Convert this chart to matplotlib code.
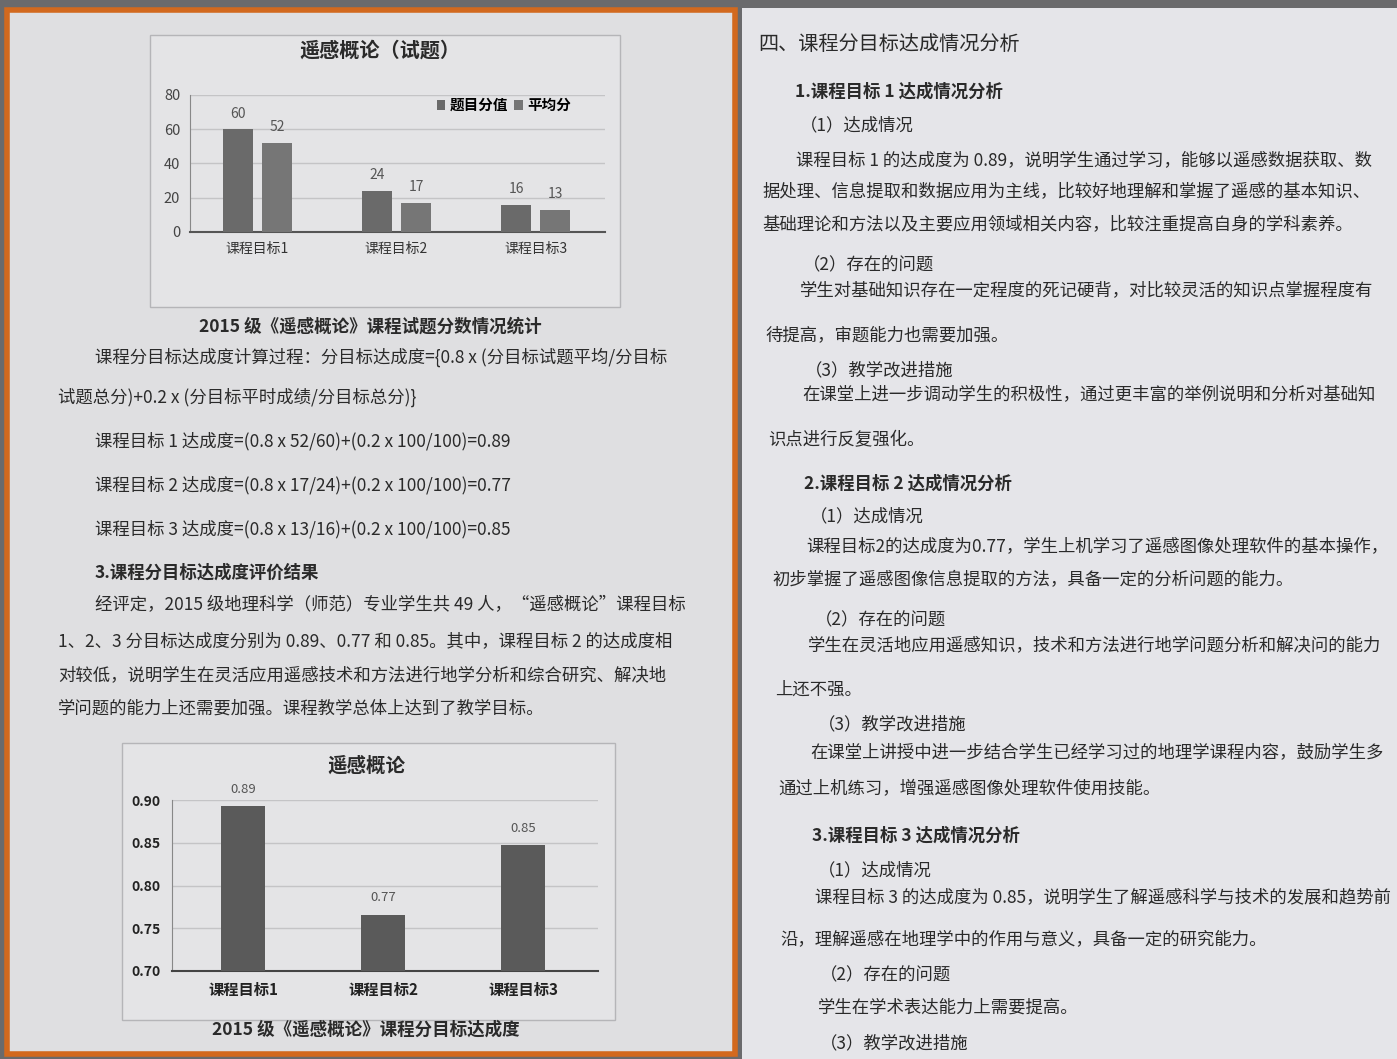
import matplotlib
matplotlib.use("Agg")
import matplotlib.pyplot as plt
from matplotlib.patches import Rectangle
import numpy as np

plt.rcParams['font.family'] = ['Noto Sans CJK SC', 'DejaVu Sans']

W, H = 1397, 1059

# ---- data ----
goals = ["课程目标1", "课程目标2", "课程目标3"]
full_scores = [60, 24, 16]
avg_scores = [52, 17, 13]
series_names = ["题目分值", "平均分"]
score_ticks = [0, 20, 40, 60, 80]
attain = [0.893, 0.766, 0.847]
attain_ticks = [0.70, 0.75, 0.80, 0.85, 0.90]

left_lines = [
    (95, 357, "课程分目标达成度计算过程：分目标达成度={0.8 x (分目标试题平均/分目标", "normal"),
    (58, 397, "试题总分)+0.2 x (分目标平时成绩/分目标总分)}", "normal"),
    (95, 441, "课程目标 1 达成度=(0.8 x 52/60)+(0.2 x 100/100)=0.89", "normal"),
    (95, 485, "课程目标 2 达成度=(0.8 x 17/24)+(0.2 x 100/100)=0.77", "normal"),
    (95, 529, "课程目标 3 达成度=(0.8 x 13/16)+(0.2 x 100/100)=0.85", "normal"),
    (95, 573, "3.课程分目标达成度评价结果", "bold"),
    (95, 605, "经评定，2015 级地理科学（师范）专业学生共 49 人，“遥感概论”课程目标", "normal"),
    (58, 641, "1、2、3 分目标达成度分别为 0.89、0.77 和 0.85。其中，课程目标 2 的达成度相", "normal"),
    (58, 675, "对较低，说明学生在灵活应用遥感技术和方法进行地学分析和综合研究、解决地", "normal"),
    (58, 709, "学问题的能力上还需要加强。课程教学总体上达到了教学目标。", "normal"),
]

right_lines = [
    (796, 160, "课程目标 1 的达成度为 0.89，说明学生通过学习，能够以遥感数据获取、数", "normal"),
    (762, 192, "据处理、信息提取和数据应用为主线，比较好地理解和掌握了遥感的基本知识、", "normal"),
    (762, 225, "基础理论和方法以及主要应用领域相关内容，比较注重提高自身的学科素养。", "normal"),
    (803, 265, "（2）存在的问题", "normal"),
    (800, 290, "学生对基础知识存在一定程度的死记硬背，对比较灵活的知识点掌握程度有", "normal"),
    (765, 335, "待提高，审题能力也需要加强。", "normal"),
    (805, 370, "（3）教学改进措施", "normal"),
    (802, 394, "在课堂上进一步调动学生的积极性，通过更丰富的举例说明和分析对基础知", "normal"),
    (768, 440, "识点进行反复强化。", "normal"),
    (804, 484, "2.课程目标 2 达成情况分析", "bold"),
    (810, 516, "（1）达成情况", "normal"),
    (806, 546, "课程目标2的达成度为0.77，学生上机学习了遥感图像处理软件的基本操作，", "normal"),
    (772, 580, "初步掌握了遥感图像信息提取的方法，具备一定的分析问题的能力。", "normal"),
    (815, 620, "（2）存在的问题", "normal"),
    (808, 645, "学生在灵活地应用遥感知识，技术和方法进行地学问题分析和解决问的能力", "normal"),
    (775, 690, "上还不强。", "normal"),
    (818, 724, "（3）教学改进措施", "normal"),
    (810, 752, "在课堂上讲授中进一步结合学生已经学习过的地理学课程内容，鼓励学生多", "normal"),
    (778, 789, "通过上机练习，增强遥感图像处理软件使用技能。", "normal"),
    (812, 836, "3.课程目标 3 达成情况分析", "bold"),
    (818, 870, "（1）达成情况", "normal"),
    (815, 897, "课程目标 3 的达成度为 0.85，说明学生了解遥感科学与技术的发展和趋势前", "normal"),
    (780, 939, "沿，理解遥感在地理学中的作用与意义，具备一定的研究能力。", "normal"),
    (820, 975, "（2）存在的问题", "normal"),
    (818, 1008, "学生在学术表达能力上需要提高。", "normal"),
    (820, 1043, "（3）教学改进措施", "normal"),
]


def fx(x):
    return x / W


def fy(y):
    return 1 - y / H


def rect(x0, y0, x1, y1, **kw):
    return Rectangle((fx(x0), fy(y1)), fx(x1) - fx(x0), fy(y0) - fy(y1),
                     transform=fig.transFigure, zorder=-10, **kw)


def ax_rect(x0, ytop, x1, ybot):
    return [fx(x0), fy(ybot), fx(x1) - fx(x0), fy(ytop) - fy(ybot)]


fig = plt.figure(figsize=(W / 100, H / 100), dpi=100)
fig.patch.set_facecolor("#6a6a6c")

# pages
fig.patches.append(rect(742, 8, 1397, 1059, facecolor="#e5e5e9", edgecolor="none"))
fig.patches.append(rect(7, 10, 735, 1054, facecolor="#dfdfe1", edgecolor="#d2691e", linewidth=4))
# chart frames
fig.patches.append(rect(150, 35, 620, 307, facecolor="#e4e4e6", edgecolor="#b5b5b8", linewidth=1))
fig.patches.append(rect(122, 743, 615, 1020, facecolor="#e4e4e6", edgecolor="#b5b5b8", linewidth=1))

text_color = "#2a2a2a"
FS = 12.5

for x, y, s, w in left_lines + right_lines:
    fig.text(fx(x), fy(y), s, fontsize=FS, fontweight=w, color=text_color,
             ha="left", va="center")

fig.text(fx(758), fy(45), "四、课程分目标达成情况分析", fontsize=14.5, color=text_color,
         ha="left", va="center")
fig.text(fx(795), fy(92), "1.课程目标 1 达成情况分析", fontsize=FS, fontweight="bold",
         color=text_color, ha="left", va="center")
fig.text(fx(800), fy(125), "（1）达成情况", fontsize=FS, color=text_color,
         ha="left", va="center")

fig.text(fx(370), fy(327), "2015 级《遥感概论》课程试题分数情况统计", fontsize=12.6,
         fontweight="bold", color=text_color, ha="center", va="center")
fig.text(fx(366), fy(1030), "2015 级《遥感概论》课程分目标达成度", fontsize=12.6,
         fontweight="bold", color=text_color, ha="center", va="center")

# ---- chart 1 ----
ax1 = fig.add_axes(ax_rect(190, 95, 605, 232))
ax1.set_facecolor("none")
ax1.set_zorder(5)
x = np.arange(len(goals))
bw = 0.22
off = 0.14
b1 = ax1.bar(x - off, full_scores, bw, color="#6a6a6a", label=series_names[0], zorder=3)
b2 = ax1.bar(x + off, avg_scores, bw, color="#767676", label=series_names[1], zorder=3)
for bars, vals in ((b1, full_scores), (b2, avg_scores)):
    for r, v in zip(bars, vals):
        ax1.text(r.get_x() + r.get_width() / 2, v + 5, f"{v}", ha="center", va="bottom",
                 fontsize=10, color="#555555")
ax1.set_ylim(0, 80)
ax1.set_xlim(-0.486, 2.5)
ax1.set_yticks(score_ticks)
ax1.set_yticklabels([str(t) for t in score_ticks], fontsize=10.5, color="#444444")
ax1.set_xticks(x)
ax1.set_xticklabels(goals, fontsize=10, color="#333333")
ax1.tick_params(length=0, pad=7)
ax1.yaxis.grid(True, color="#c4c4c6", linewidth=1, zorder=0)
ax1.set_axisbelow(True)
for sp in ("top", "right"):
    ax1.spines[sp].set_visible(False)
ax1.spines["left"].set_color("#888888")
ax1.spines["bottom"].set_color("#555555")
ax1.spines["bottom"].set_linewidth(1.5)
ax1.legend(loc="upper right", bbox_to_anchor=(0.95, 1.08), ncol=2, frameon=False,
           handlelength=0.6, handleheight=0.6, handletextpad=0.3,
           columnspacing=0.4, prop={"weight": "bold", "size": 10.5})
fig.text(fx(380), fy(50), "遥感概论（试题）", fontsize=14.5, fontweight="bold",
         color="#2a2a2a", ha="center", va="center")

# ---- chart 2 ----
ax2 = fig.add_axes(ax_rect(172, 800, 598, 971))
ax2.set_facecolor("none")
ax2.set_zorder(5)
bars2 = ax2.bar(x, attain, 0.31, color="#5a5a5a", zorder=3)
for r, v in zip(bars2, attain):
    ax2.text(r.get_x() + r.get_width() / 2, v + 0.012, f"{v:.2f}", ha="center",
             va="bottom", fontsize=9.5, color="#555555")
ax2.set_ylim(0.70, 0.90)
ax2.set_xlim(-0.507, 2.536)
ax2.set_yticks(attain_ticks)
ax2.set_yticklabels([f"{t:.2f}" for t in attain_ticks], fontsize=10, fontweight="bold",
                    color="#222222")
ax2.set_xticks(x)
ax2.set_xticklabels(goals, fontsize=11, fontweight="bold", color="#222222")
ax2.tick_params(length=0, pad=8)
ax2.yaxis.grid(True, color="#c4c4c6", linewidth=1, zorder=0)
ax2.set_axisbelow(True)
for sp in ("top", "right"):
    ax2.spines[sp].set_visible(False)
ax2.spines["left"].set_color("#888888")
ax2.spines["bottom"].set_color("#444444")
ax2.spines["bottom"].set_linewidth(1.5)
fig.text(fx(366), fy(766), "遥感概论", fontsize=14, fontweight="bold",
         color="#2a2a2a", ha="center", va="center")

fig.savefig("out.png", dpi=100, facecolor=fig.get_facecolor())
